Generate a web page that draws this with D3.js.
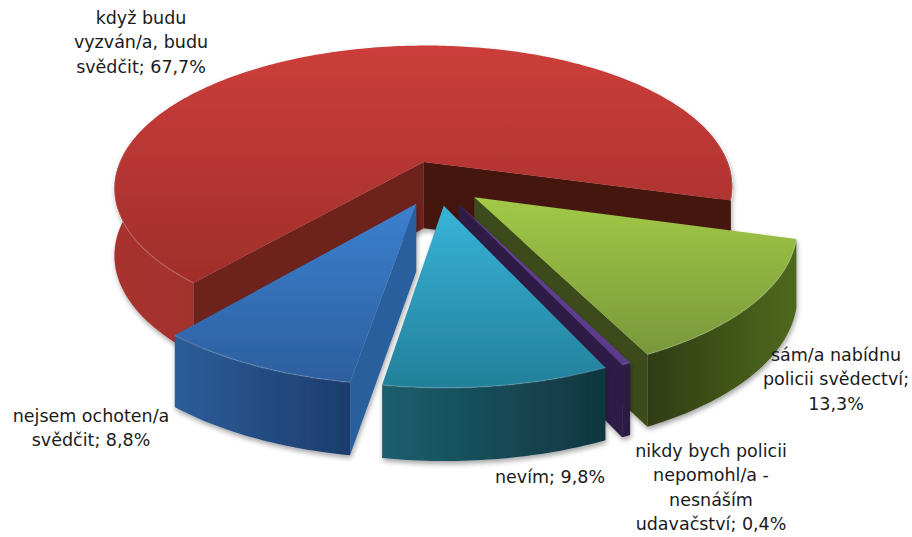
<!DOCTYPE html>
<html>
<head>
<meta charset="utf-8">
<script src="https://cdn.jsdelivr.net/npm/d3@7"></script>
<style>
body { margin: 0; background: #fff; }
svg { display: block; }
text { font-family: "DejaVu Sans", sans-serif; font-size: 17.5px; fill: #1a1a1a; text-anchor: middle; }
</style>
</head>
<body>
<svg id="chart" width="912" height="537"></svg>
<script>
// data, in pie order (clockwise from the red slice)
let categories = ["když budu vyzván/a, budu svědčit", "sám/a nabídnu policii svědectví", "nikdy bych policii nepomohl/a - nesnáším udavačství", "nevím", "nejsem ochoten/a svědčit"];
let values = [67.7, 13.3, 0.4, 9.8, 8.8];

// colours per slice: top surface (far, near), outer wall (left, right), cut faces (start, end)
let topColors = [["#cc3e3a", "#a02e2b"], ["#a2c947", "#78983a"], ["#63409a", "#5a3a8c"], ["#37b4d8", "#23809a"], ["#3c80cf", "#2c5f9f"]];
let wallColors = [["#a8322e", "#7f2522"], ["#2f3c12", "#4f691d"], ["#2e1d47", "#2a1a40"], ["#1c5f6e", "#10363f"], ["#2c5d99", "#1d3c6c"]];
let faceColors = [["#6e211f", "#451310"], ["#334013", "#3d4c1a"], ["#2e1d47", "#2e1d47"], ["#164a57", "#164a57"], ["#2c5f9e", "#2c5f9e"]];
// label centres
let labelX = [141, 836, 711, 550, 91];
let labelY = [24, 361, 457, 483, 422];

let svg = d3.select("#chart");
let defs = svg.append("defs");
let shadow = defs.append("filter").attr("id", "shadow").attr("x", "-10%").attr("y", "-10%").attr("width", "120%").attr("height", "120%");
shadow.append("feDropShadow").attr("dx", 1).attr("dy", 3).attr("stdDeviation", 2.5).attr("flood-color", "#000").attr("flood-opacity", 0.35);

// projection of the tilted pie: things nearer the viewer are larger
let cx = 437, cy = 183, R = 312, explode = 47;
let k = 0.478, persX = 0.18, persY = 0.17, depth = 67, persDepth = 0.08;
let project = (X, Y) => [cx + X * (1 + persX * Y / R), cy + k * Y * (1 + persY * Y / R)];
let drop = (Y) => depth * (1 + persDepth * Y / R);

let firstAngle = 221.3 * Math.PI / 180;
let pie = d3.pie().sort(null).startAngle(firstAngle).endAngle(firstAngle + 2 * Math.PI);
let slices = pie(values);
let line = d3.line();

slices.forEach((s, i) => {
    let mid = (s.startAngle + s.endAngle) / 2;
    let ox = explode * Math.sin(mid), oy = -explode * Math.cos(mid);
    let ground = (a, r) => [ox + r * Math.sin(a), oy - r * Math.cos(a)];
    let top = (g) => project(g[0], g[1]);
    let bottom = (g) => { let p = project(g[0], g[1]); return [p[0], p[1] + drop(g[1])]; };

    let n = Math.max(2, Math.ceil((s.endAngle - s.startAngle) * 60));
    let arcAngles = d3.range(n + 1).map(j => s.startAngle + (s.endAngle - s.startAngle) * j / n);
    let arcGround = arcAngles.map(a => ground(a, R));
    let apex = ground(0, 0);

    let topPts = [top(apex), ...arcGround.map(top)];
    let xs = arcGround.map(g => top(g)[0]);
    let ys = topPts.map(p => p[1]);

    let topId = "top" + i, wallId = "wall" + i;
    let tg = defs.append("linearGradient").attr("id", topId).attr("gradientUnits", "userSpaceOnUse")
        .attr("x1", 0).attr("x2", 0).attr("y1", d3.min(ys)).attr("y2", d3.max(ys));
    tg.append("stop").attr("offset", 0).attr("stop-color", topColors[i][0]);
    tg.append("stop").attr("offset", 1).attr("stop-color", topColors[i][1]);

    let wg = defs.append("linearGradient").attr("id", wallId).attr("gradientUnits", "userSpaceOnUse")
        .attr("y1", 0).attr("y2", 0).attr("x1", d3.min(xs)).attr("x2", d3.max(xs));
    wg.append("stop").attr("offset", 0).attr("stop-color", wallColors[i][0]);
    wg.append("stop").attr("offset", 1).attr("stop-color", wallColors[i][1]);

    let g = svg.append("g").attr("filter", "url(#shadow)");

    // outer wall: only the runs of the arc that face the viewer
    let runs = [], run = [];
    arcGround.forEach((p, j) => {
        if (-Math.cos(arcAngles[j]) > -0.12) run.push(p);
        else { if (run.length) runs.push(run); run = []; }
    });
    if (run.length) runs.push(run);
    runs.forEach(r => {
        let pts = [...r.map(top), ...r.slice().reverse().map(bottom)];
        g.append("path").attr("d", line(pts) + "Z").attr("fill", "url(#" + wallId + ")");
    });

    // cut faces, only where they turn towards the viewer
    let faceAt = (p) => [top(apex), top(p), bottom(p), bottom(apex)];
    if (Math.sin(s.startAngle) < 0) {
        g.append("path").attr("d", line(faceAt(arcGround[0])) + "Z").attr("fill", faceColors[i][0]);
    }
    if (Math.sin(s.endAngle) > 0) {
        g.append("path").attr("d", line(faceAt(arcGround[n])) + "Z").attr("fill", faceColors[i][1]);
    }

    // top surface
    g.append("path").attr("d", line(topPts) + "Z").attr("fill", "url(#" + topId + ")");
    // thin bright rim along the front of the arc
    runs.forEach(r => {
        g.append("path").attr("d", line(r.map(top))).attr("fill", "none")
            .attr("stroke", "#fff").attr("stroke-opacity", 0.14).attr("stroke-width", 1.5);
    });
});

// labels, wrapped at 18 characters
let format = d3.format(".1f");
let wrap = (str) => {
    let lines = [], cur = "";
    str.split(" ").forEach(w => {
        if (cur && (cur + " " + w).length > 18) { lines.push(cur); cur = w; }
        else cur = cur ? cur + " " + w : w;
    });
    lines.push(cur);
    return lines;
};
categories.forEach((c, i) => {
    let str = c + "; " + format(values[i]).replace(".", ",") + "%";
    let t = svg.append("text").attr("x", labelX[i]).attr("y", labelY[i]).attr("dy", "0.35em");
    wrap(str).forEach((l, j) => {
        t.append("tspan").attr("x", labelX[i]).attr("dy", j ? 24.3 : 0).text(l);
    });
});
</script>
</body>
</html>
